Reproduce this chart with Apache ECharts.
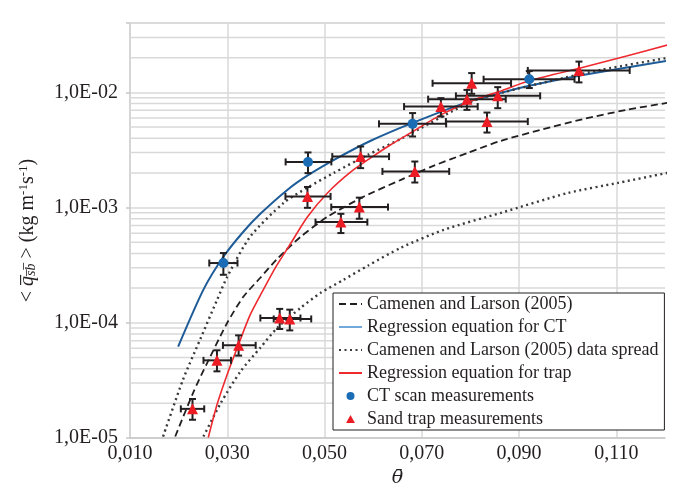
<!DOCTYPE html>
<html>
<head>
<meta charset="utf-8">
<script src="https://cdn.jsdelivr.net/npm/echarts@6/dist/echarts.min.js"></script>
<style>
  html, body { margin: 0; padding: 0; background: #fff; }
  #chart { width: 676px; height: 500px; }
</style>
</head>
<body>
<div id="chart"></div>
<script>
// curves, [theta, q]
const camenenLarson = [
  [0.0193, 1.03e-5], [0.0230, 2.48e-5], [0.0259, 4.51e-5], [0.0300, 1.00e-4],
  [0.0333, 1.68e-4], [0.0368, 2.46e-4], [0.0403, 3.60e-4], [0.0451, 5.58e-4],
  [0.0506, 8.32e-4], [0.0580, 1.24e-3], [0.0657, 1.74e-3], [0.0725, 2.31e-3],
  [0.0795, 2.99e-3], [0.0863, 3.80e-3], [0.0945, 4.73e-3], [0.1034, 5.89e-3],
  [0.1121, 7.05e-3], [0.1205, 8.11e-3]
];
const spreadUpper = [
  [0.0168, 1.03e-5], [0.0209, 3.21e-5], [0.0244, 7.13e-5], [0.0279, 1.58e-4],
  [0.0300, 2.51e-4], [0.0347, 5.58e-4], [0.0416, 1.10e-3], [0.0465, 1.49e-3],
  [0.0519, 2.00e-3], [0.0589, 2.87e-3], [0.0657, 3.95e-3], [0.0801, 8.27e-3],
  [0.0863, 9.90e-3], [0.0966, 1.26e-2], [0.1069, 1.57e-2], [0.1205, 1.99e-2]
];
const spreadLower = [
  [0.0251, 1.03e-5], [0.0286, 1.99e-5], [0.0327, 3.77e-5], [0.0368, 6.08e-5],
  [0.0403, 9.06e-5], [0.0451, 1.35e-4], [0.0492, 1.82e-4], [0.0539, 2.36e-4],
  [0.0589, 3.13e-4], [0.0657, 4.48e-4], [0.0745, 6.41e-4], [0.0863, 9.01e-4],
  [0.1001, 1.34e-3], [0.1104, 1.64e-3], [0.1205, 2.00e-3]
];
const ctRegression = [
  [0.0199, 6.21e-5], [0.0251, 1.94e-4], [0.0292, 3.74e-4], [0.0333, 6.17e-4],
  [0.0368, 8.83e-4], [0.0424, 1.43e-3], [0.0467, 1.92e-3], [0.0527, 2.70e-3],
  [0.0595, 3.80e-3], [0.0681, 5.43e-3], [0.0795, 8.27e-3], [0.0863, 9.90e-3],
  [0.0921, 1.14e-2], [0.1034, 1.42e-2], [0.1205, 1.88e-2]
];
const trapRegression = [
  [0.0261, 1.01e-5], [0.0279, 1.95e-5], [0.0302, 3.77e-5], [0.0323, 6.46e-5],
  [0.0347, 1.17e-4], [0.0372, 1.86e-4], [0.0399, 3.01e-4], [0.0430, 4.85e-4],
  [0.0465, 8.32e-4], [0.0506, 1.34e-3], [0.0554, 2.04e-3], [0.0595, 2.70e-3],
  [0.0636, 3.51e-3], [0.0684, 4.64e-3], [0.0739, 6.38e-3], [0.0801, 8.43e-3],
  [0.0863, 1.03e-2], [0.0921, 1.26e-2], [0.1034, 1.66e-2], [0.1121, 2.07e-2],
  [0.1205, 2.58e-2]
];

// CT scan measurements
const ctTheta = [0.0292, 0.0466, 0.0681, 0.0921];
const ctQ = [3.30e-4, 2.49e-3, 5.33e-3, 1.30e-2];
const ctThetaRange = [[0.0263, 0.0321], [0.0420, 0.0514], [0.0612, 0.0750], [0.0827, 0.1014]];
const ctQRange = [[2.61e-4, 4.03e-4], [1.99e-3, 3.01e-3], [4.14e-3, 6.61e-3], [1.09e-2, 1.53e-2]];

// sand trap measurements
const trapTheta = [0.02285, 0.02788, 0.03233, 0.04078, 0.04285, 0.04649, 0.05336, 0.05715,
  0.05742, 0.06856, 0.07392, 0.07928, 0.08025, 0.08561, 0.08340, 0.10231];
const trapQ = [1.79e-5, 4.72e-5, 6.37e-5, 1.10e-4, 1.08e-4, 1.25e-3, 7.48e-4, 1.01e-3,
  2.77e-3, 2.06e-3, 7.53e-3, 8.73e-3, 1.20e-2, 9.33e-3, 5.58e-3, 1.55e-2];
const trapThetaRange = [[0.02045, 0.02526], [0.02511, 0.03076], [0.02911, 0.03584], [0.03680, 0.04505],
  [0.03955, 0.04726], [0.04196, 0.05124], [0.04814, 0.05880], [0.05138, 0.06305],
  [0.05159, 0.06326], [0.06190, 0.07563], [0.06635, 0.08149], [0.07130, 0.08726],
  [0.07221, 0.08835], [0.07701, 0.09433], [0.07495, 0.09179], [0.09179, 0.11274]];
const trapQRange = [[1.44e-5, 2.18e-5], [3.79e-5, 5.77e-5], [5.19e-5, 7.78e-5], [8.83e-5, 1.32e-4],
  [8.59e-5, 1.30e-4], [9.95e-4, 1.51e-3], [6.01e-4, 8.83e-4], [8.0e-4, 1.22e-3],
  [2.20e-3, 3.39e-3], [1.65e-3, 2.51e-3], [6.17e-3, 8.91e-3], [7.05e-3, 1.05e-2],
  [9.71e-3, 1.47e-2], [7.29e-3, 1.11e-2], [4.48e-3, 6.68e-3], [1.22e-2, 1.85e-2]];

const FONT = '"Liberation Serif", "Times New Roman", serif';
const INK = '#231f20';
const GRID = '#d9d9d9';

// 2..9 x 10^n lines between the decades
const minorGrid = [];
for (let e = -5; e <= -2; e++) {
  for (let k = 2; k <= 9; k++) {
    const v = k * Math.pow(10, e);
    if (v <= 0.0400001) minorGrid.push([v]);
  }
}

function errorRows(theta, q, thetaRange, qRange) {
  return theta.map((t, i) => [t, q[i], thetaRange[i][0], thetaRange[i][1], qRange[i][0], qRange[i][1]]);
}

function renderErrorBar(params, api) {
  const y = api.value(1), x = api.value(0);
  const p = api.coord([x, y]);
  const l = api.coord([api.value(2), y]);
  const r = api.coord([api.value(3), y]);
  const b = api.coord([x, api.value(4)]);
  const t = api.coord([x, api.value(5)]);
  const cap = 3.5;
  const style = { stroke: INK, lineWidth: 2 };
  const seg = (x1, y1, x2, y2) => ({ type: 'line', shape: { x1, y1, x2, y2 }, style });
  return {
    type: 'group',
    children: [
      seg(l[0], p[1], r[0], p[1]),
      seg(l[0], p[1] - cap, l[0], p[1] + cap),
      seg(r[0], p[1] - cap, r[0], p[1] + cap),
      seg(p[0], b[1], p[0], t[1]),
      seg(p[0] - cap, b[1], p[0] + cap, b[1]),
      seg(p[0] - cap, t[1], p[0] + cap, t[1])
    ]
  };
}

function renderMinorGrid(params, api) {
  const cs = params.coordSys;
  const y = api.coord([0.05, api.value(0)])[1];
  return {
    type: 'line',
    shape: { x1: cs.x, y1: y, x2: cs.x + cs.width, y2: y },
    style: { stroke: GRID, lineWidth: 1.5 }
  };
}

// legend entries for curves: line only, no marker
const lineOnly = { opacity: 0, color: 'rgba(0,0,0,0)', borderWidth: 0 };

const chart = echarts.init(document.getElementById('chart'));
chart.setOption({
  animation: false,
  textStyle: { fontFamily: FONT, color: INK },
  grid: { left: 130, right: 11, top: 23, bottom: 62, outerBoundsMode: 'none', containLabel: false },
  legend: {
    orient: 'vertical',
    left: 333,
    top: 293,
    padding: [2, 6, 2, 5],
    itemGap: 5,
    itemWidth: 23,
    itemHeight: 8,
    symbolKeepAspect: true,
    backgroundColor: '#fff',
    borderColor: INK,
    borderWidth: 1,
    borderRadius: 0,
    textStyle: { fontFamily: FONT, fontSize: 18, color: INK, lineHeight: 18 },
    data: [
      { name: 'Camenen and Larson (2005)', itemStyle: lineOnly },
      { name: 'Regression equation for CT', itemStyle: lineOnly, lineStyle: { color: '#4f93d2', width: 1.6 } },
      { name: 'Camenen and Larson (2005) data spread', itemStyle: lineOnly, lineStyle: { width: 2 } },
      { name: 'Regression equation for trap', itemStyle: lineOnly },
      { name: 'CT scan measurements', icon: 'circle' },
      { name: 'Sand trap measurements', icon: 'path://M5,0 L10,9 L0,9 Z' }
    ]
  },
  xAxis: {
    type: 'value',
    min: 0.01,
    max: 0.12,
    interval: 0.02,
    name: '\u03b8\u0304',
    nameLocation: 'middle',
    nameGap: 12,
    nameTextStyle: { fontFamily: '"DejaVu Serif", serif', fontSize: 19, fontStyle: 'italic', color: INK },
    axisLine: { show: true, lineStyle: { color: '#c8c8c8', width: 1.5 } },
    axisTick: { show: false },
    axisLabel: {
      fontFamily: FONT, fontSize: 20, color: INK, margin: 6,
      formatter: v => (v > 0.115 ? '' : v.toFixed(3).replace('.', ','))
    },
    splitLine: { show: true, showMinLine: false, showMaxLine: false, lineStyle: { color: GRID, width: 1.5 } }
  },
  yAxis: {
    type: 'log',
    logBase: 10,
    min: 1e-5,
    max: 0.04,
    splitNumber: 4,
    name: '< {q|q\u0305}{sub|s\u0305b\u0305} > (kg m{sup|-1}s{sup|-1})',
    nameLocation: 'middle',
    nameRotate: 90,
    nameGap: 92,
    nameTextStyle: {
      fontFamily: FONT, fontSize: 20, color: INK,
      rich: {
        q: { fontFamily: FONT, fontSize: 20, fontStyle: 'italic', color: INK },
        sub: { fontFamily: FONT, fontSize: 14, fontStyle: 'italic', color: INK, verticalAlign: 'bottom', padding: [6, 0, 0, 0] },
        sup: { fontFamily: FONT, fontSize: 13, color: INK, verticalAlign: 'top', padding: [0, 0, 8, 0] }
      }
    },
    axisLine: { show: true, lineStyle: { color: '#c8c8c8', width: 1.5 } },
    axisTick: { show: true, inside: false, length: 4, lineStyle: { color: '#c8c8c8', width: 1.5 } },
    axisLabel: {
      fontFamily: FONT, fontSize: 20, color: INK, margin: 12,
      formatter: v => {
        const e = Math.log10(v);
        if (Math.abs(e - Math.round(e)) > 1e-6) return '';
        return '1,0E-' + String(-Math.round(e)).padStart(2, '0');
      }
    },
    splitLine: { show: true, lineStyle: { color: GRID, width: 1.5 } }
  },
  series: [
    {
      name: 'minor grid',
      type: 'custom',
      silent: true,
      z: 1,
      renderItem: renderMinorGrid,
      encode: { y: 0 },
      data: minorGrid
    },
    {
      name: 'Camenen and Larson (2005)',
      type: 'line',
      z: 2,
      symbol: 'none',
      smooth: 0.25,
      lineStyle: { color: INK, width: 1.8, type: [7, 4] },
      data: camenenLarson
    },
    {
      name: 'Regression equation for CT',
      type: 'line',
      z: 2,
      symbol: 'none',
      smooth: 0.25,
      lineStyle: { color: '#1d5c98', width: 2 },
      data: ctRegression
    },
    {
      name: 'Camenen and Larson (2005) data spread',
      type: 'line',
      z: 2,
      symbol: 'none',
      smooth: 0.25,
      lineStyle: { color: '#3a3a3a', width: 2.4, type: [2, 3.5] },
      data: spreadUpper
    },
    {
      name: 'Camenen and Larson (2005) data spread',
      type: 'line',
      z: 2,
      symbol: 'none',
      smooth: 0.25,
      lineStyle: { color: '#3a3a3a', width: 2.4, type: [2, 3.5] },
      data: spreadLower
    },
    {
      name: 'Regression equation for trap',
      type: 'line',
      z: 2,
      symbol: 'none',
      smooth: 0.25,
      lineStyle: { color: '#ee2a2f', width: 1.6 },
      data: trapRegression
    },
    {
      name: 'error bars',
      type: 'custom',
      silent: true,
      z: 3,
      renderItem: renderErrorBar,
      encode: { x: 0, y: 1 },
      data: errorRows(trapTheta, trapQ, trapThetaRange, trapQRange)
        .concat(errorRows(ctTheta, ctQ, ctThetaRange, ctQRange))
    },
    {
      name: 'CT scan measurements',
      type: 'scatter',
      z: 4,
      symbol: 'circle',
      symbolSize: 10,
      itemStyle: { color: '#1a6db4', opacity: 1 },
      data: ctTheta.map((t, i) => [t, ctQ[i]])
    },
    {
      name: 'Sand trap measurements',
      type: 'scatter',
      z: 4,
      symbol: 'triangle',
      symbolSize: 11,
      itemStyle: { color: '#ec1c24', opacity: 1 },
      data: trapTheta.map((t, i) => [t, trapQ[i]])
    }
  ]
});
</script>
</body>
</html>
